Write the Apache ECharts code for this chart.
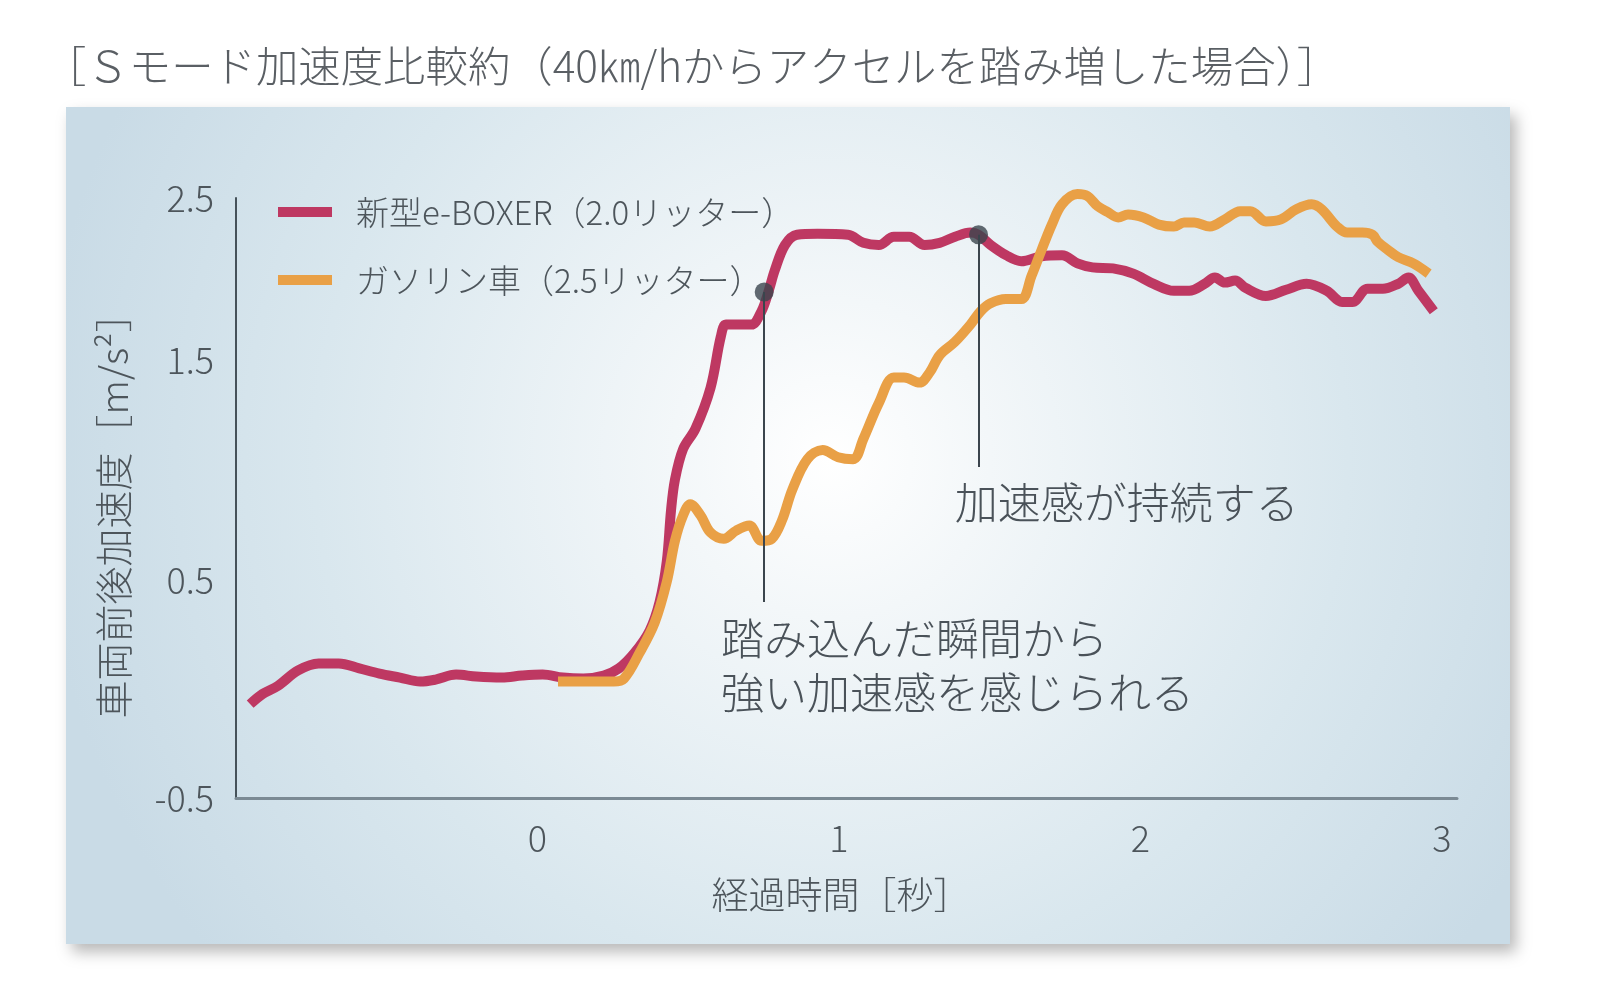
<!DOCTYPE html>
<html><head><meta charset="utf-8">
<script src="https://cdn.jsdelivr.net/npm/echarts@6/dist/echarts.min.js"></script>
<style>html,body{margin:0;padding:0;background:#fff}#c{width:1600px;height:985px}</style>
</head><body><div id="c"></div>
<script>
const titleText = '［Ｓモード加速度比較約（40㎞/hからアクセルを踏み増した場合）］';
const seriesNames = ['新型e-BOXER（2.0リッター）', 'ガソリン車（2.5リッター）'];
const xAxisName = '経過時間［秒］';
const yAxisName = '車両前後加速度［m/s²］';
const xTickLabels = [0, 1, 2, 3];
const yTickLabels = [-0.5, 0.5, 1.5, 2.5];

const eboxerTime = [-0.953,-0.912,-0.861,-0.794,-0.726,-0.659,-0.591,-0.524,-0.456,-0.389,-0.338,-0.270,-0.203,-0.118,-0.051,0.017,0.084,0.152,0.220,0.270,0.321,0.372,0.405,0.429,0.443,0.456,0.483,0.524,0.574,0.608,0.625,0.659,0.709,0.743,0.767,0.787,0.821,0.861,0.929,1.030,1.081,1.132,1.182,1.233,1.284,1.334,1.385,1.436,1.463,1.503,1.554,1.605,1.672,1.740,1.791,1.841,1.909,1.976,2.044,2.111,2.162,2.213,2.247,2.280,2.314,2.348,2.416,2.483,2.551,2.618,2.669,2.703,2.753,2.804,2.855,2.889,2.922,2.973];
const eboxerAccel = [-0.031,0.020,0.061,0.138,0.173,0.173,0.148,0.122,0.102,0.082,0.092,0.117,0.107,0.102,0.112,0.117,0.102,0.097,0.112,0.148,0.224,0.337,0.480,0.684,0.939,1.092,1.245,1.347,1.551,1.806,1.867,1.867,1.867,1.934,2.036,2.138,2.265,2.316,2.321,2.316,2.276,2.265,2.306,2.306,2.265,2.276,2.306,2.327,2.316,2.265,2.214,2.184,2.209,2.214,2.173,2.153,2.148,2.122,2.071,2.036,2.036,2.071,2.102,2.077,2.087,2.051,2.010,2.041,2.071,2.036,1.980,1.980,2.046,2.046,2.071,2.102,2.036,1.934];

const gasolineTime = [0.068,0.118,0.186,0.253,0.287,0.338,0.389,0.429,0.456,0.483,0.507,0.541,0.574,0.618,0.659,0.703,0.743,0.777,0.811,0.845,0.895,0.946,0.997,1.047,1.081,1.132,1.182,1.216,1.267,1.301,1.334,1.385,1.436,1.470,1.503,1.554,1.605,1.639,1.672,1.706,1.740,1.791,1.824,1.858,1.892,1.926,1.959,2.010,2.061,2.111,2.145,2.179,2.230,2.280,2.331,2.365,2.416,2.466,2.517,2.568,2.601,2.652,2.686,2.736,2.770,2.787,2.821,2.855,2.905,2.956];
const gasolineAccel = [0.082,0.082,0.082,0.082,0.097,0.224,0.378,0.582,0.786,0.913,0.969,0.913,0.827,0.796,0.837,0.862,0.786,0.796,0.888,1.041,1.194,1.240,1.204,1.194,1.296,1.474,1.602,1.602,1.577,1.628,1.714,1.781,1.867,1.934,1.974,1.995,1.995,2.112,2.240,2.367,2.469,2.520,2.510,2.459,2.429,2.403,2.418,2.403,2.367,2.357,2.378,2.378,2.357,2.393,2.434,2.434,2.383,2.393,2.444,2.469,2.444,2.357,2.327,2.327,2.316,2.281,2.240,2.204,2.173,2.122];

const annoTime = [0.752, 1.463];
const annoTop = [2.03, 2.316];
const annoBottom = [0.48, 1.155];
const annoTexts = ['踏み込んだ瞬間から\n強い加速感を感じられる', '加速感が持続する'];
const annoTextTime = [0.609, 1.384];
const annoTextAccel = [0.4325, 1.1125];

const FONT = '"Noto Sans CJK JP", "Noto Sans", sans-serif';
const TXT = '#4d555b';
const RED = '#be3862';
const ORANGE = '#e9a046';
const DARK = '#3b454d';
// visual vertical offsets of tick labels in the reference (px, upward)
const yLabelShift = {'1.5': 38, '0.5': 18};

const zip = (a, b) => a.map((v, i) => [v, b[i]]);
const rich = {n: {fontSize: 36, color: TXT, fontFamily: FONT, fontWeight: 300}};
Object.keys(yLabelShift).forEach((k, i) => {
  rich['s' + i] = {fontSize: 36, color: TXT, fontFamily: FONT, fontWeight: 300, padding: [0, 0, yLabelShift[k] * 2, 0]};
});

const chart = echarts.init(document.getElementById('c'), null, {renderer: 'canvas'});
chart.setOption({
  backgroundColor: '#ffffff',
  animation: false,
  graphic: [{
    type: 'rect', z: -10, silent: true,
    shape: {x: 66, y: 107, width: 1444, height: 837},
    style: {
      fill: new echarts.graphic.RadialGradient(0.53, 0.42, 0.95, [
        {offset: 0, color: '#ffffff'},
        {offset: 0.2, color: '#f3f7f9'},
        {offset: 0.65, color: '#d9e7ee'},
        {offset: 1, color: '#c9dbe6'}
      ]),
      shadowBlur: 14, shadowOffsetX: 6, shadowOffsetY: 8, shadowColor: 'rgba(0,0,0,0.28)'
    }
  }],
  title: {
    text: titleText, left: 39, top: 40,
    textStyle: {fontFamily: FONT, fontSize: 42.4, fontWeight: 300, color: '#5a5f64'}
  },
  legend: {
    orient: 'vertical', left: 273, top: 187, itemWidth: 54, itemHeight: 10, itemGap: 28,
    icon: 'rect', data: seriesNames,
    textStyle: {fontFamily: FONT, fontSize: 33, fontWeight: 300, color: TXT, lineHeight: 40, padding: [0, 0, 0, 19]}
  },
  grid: {left: 236, right: 143, top: 198, bottom: 187, containLabel: false},
  xAxis: {
    type: 'value', min: -1, max: 3.05, interval: 1,
    name: xAxisName, nameLocation: 'middle', nameGap: 78,
    nameTextStyle: {fontFamily: FONT, fontSize: 37, fontWeight: 300, color: TXT, padding: [0, 11, 0, 0]},
    axisLine: {show: true, onZero: false, lineStyle: {color: '#7b8a94', width: 3}},
    axisTick: {show: false}, splitLine: {show: false},
    axisLabel: {
      margin: 22, fontFamily: FONT, fontSize: 36, fontWeight: 300, color: TXT,
      showMinLabel: false, showMaxLabel: false,
      formatter: v => xTickLabels.includes(Math.round(v * 1000) / 1000) ? String(v) : ''
    }
  },
  yAxis: {
    type: 'value', min: -0.5, max: 2.5, interval: 1,
    name: yAxisName, nameLocation: 'middle', nameGap: 103, nameRotate: 90,
    nameTextStyle: {fontFamily: FONT, fontSize: 38, fontWeight: 300, color: TXT, padding: [0, 17, 0, 0]},
    axisLine: {show: true, onZero: false, lineStyle: {color: '#46525a', width: 2}},
    axisTick: {show: false}, splitLine: {show: false},
    axisLabel: {
      margin: 22, rich: rich,
      formatter: v => {
        const key = String(Math.round(v * 10) / 10);
        if (!yTickLabels.map(String).includes(key)) return '';
        const idx = Object.keys(yLabelShift).indexOf(key);
        return idx >= 0 ? '{s' + idx + '|' + key + '}' : '{n|' + key + '}';
      }
    }
  },
  series: [
    {
      name: seriesNames[0], type: 'line', data: zip(eboxerTime, eboxerAccel),
      smooth: 0.35, showSymbol: false, clip: false, z: 3,
      itemStyle: {color: RED}, lineStyle: {color: RED, width: 10}
    },
    {
      name: seriesNames[1], type: 'line', data: zip(gasolineTime, gasolineAccel),
      smooth: 0.35, showSymbol: false, clip: false, z: 4,
      itemStyle: {color: ORANGE}, lineStyle: {color: ORANGE, width: 10}
    },
    {
      name: 'annotations', type: 'scatter', z: 6, silent: true,
      data: zip(annoTime, annoTop), symbol: 'circle', symbolSize: 19,
      itemStyle: {color: DARK},
      markLine: {
        silent: true, symbol: ['none', 'none'], label: {show: false},
        lineStyle: {color: DARK, width: 2, type: 'solid'},
        data: annoTime.map((t, i) => [{coord: [t, annoTop[i]]}, {coord: [t, annoBottom[i]]}])
      },
      markPoint: {
        silent: true, symbol: 'circle', symbolSize: 0,
        label: {
          show: true, position: 'right', distance: 0, align: 'left', verticalAlign: 'top',
          fontFamily: FONT, fontSize: 43, fontWeight: 300, color: '#4a5259', lineHeight: 54,
          formatter: p => p.name
        },
        data: annoTexts.map((s, i) => ({name: s, coord: [annoTextTime[i], annoTextAccel[i]]}))
      }
    }
  ]
});
</script></body></html>
